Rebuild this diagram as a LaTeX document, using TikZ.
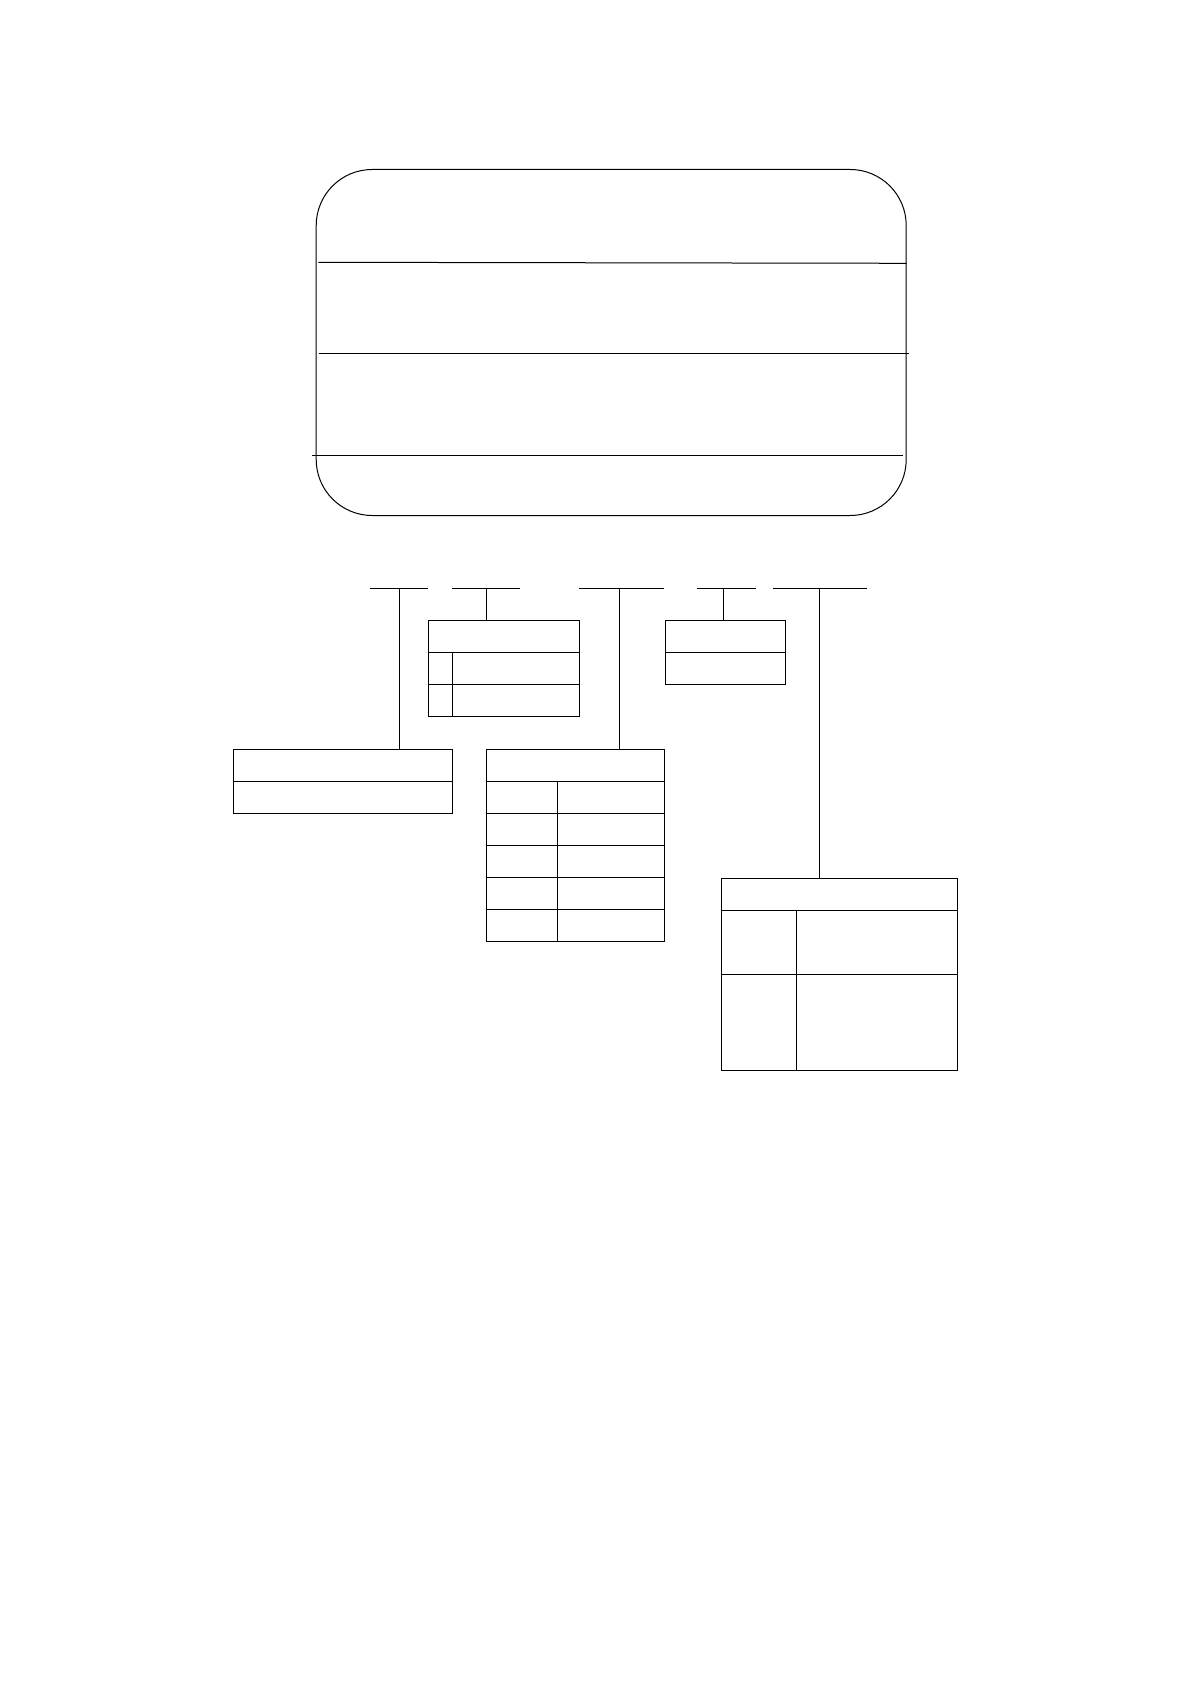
\documentclass[tikz,border=0pt]{standalone}
\usetikzlibrary{positioning}
\tikzstyle{cell} = [draw, rectangle, inner sep=0pt, outer sep=0pt, minimum height=16pt]

\begin{document}
\begin{tikzpicture}[x=0.5pt, y=-0.5pt, line width=0.5pt, node distance=0pt]
  \useasboundingbox (0,0) rectangle (1190,1684);

  % plate
  \node[draw, rounded corners=28pt, inner sep=0pt, anchor=north west,
        minimum width=295pt, minimum height=173pt] (plate) at (315.7,169) {};
  \draw (318.3,262.3) -- (906.7,263.3);
  \draw (318.7,353.3) -- (909,353.3);
  \draw (312.3,455.7) -- (903.3,455.7);

  % left box
  \node[cell, anchor=north west, minimum width=109.5pt] (lft) at (233.3,749.3) {};
  \node[cell, minimum width=109.5pt, below=of lft] (lft2) {};

  % code box
  \node[cell, anchor=north west, minimum width=75.5pt] (code) at (428.3,620) {};
  \node[cell, minimum width=12pt, below right=0pt and 0pt of code.south west] (code1) {};
  \node[cell, minimum width=63.5pt, right=of code1] (coder1) {};
  \node[cell, minimum width=12pt, below=of code1] (code2) {};
  \node[cell, minimum width=63.5pt, right=of code2] (coder2) {};

  % table
  \node[cell, anchor=north west, minimum width=89pt] (tab) at (486.3,749.3) {};
  \node[cell, minimum width=35.5pt, below right=0pt and 0pt of tab.south west] (tab1) {};
  \node[cell, minimum width=53.5pt, right=of tab1] (tabr1) {};
  \foreach \i [count=\j from 1] in {2,...,5} {
    \node[cell, minimum width=35.5pt, below=of tab\j] (tab\i) {};
    \node[cell, minimum width=53.5pt, right=of tab\i] (tabr\i) {};
  }

  % plug box
  \node[cell, anchor=north west, minimum width=60pt] (plug) at (665.3,620) {};
  \node[cell, minimum width=60pt, below=of plug] (plug2) {};

  % note box
  \node[cell, anchor=north west, minimum width=118.2pt] (note) at (721.3,878.3) {};
  \node[cell, minimum width=37.5pt, minimum height=32pt, below right=0pt and 0pt of note.south west] (note1) {};
  \node[cell, minimum width=80.7pt, minimum height=32pt, right=of note1] (noter1) {};
  \node[cell, minimum width=37.5pt, minimum height=48.3pt, below=of note1] (note2) {};
  \node[cell, minimum width=80.7pt, minimum height=48.3pt, right=of note2] (noter2) {};

  % bars and drops
  \foreach \l/\r/\d/\tgt [count=\i] in {370/428/399.3/lft, 452/520/486.3/code,
      579/664.3/619.3/tab, 696.7/755.7/723.3/plug, 773/866.7/819.3/note} {
    \coordinate (bl\i) at (\l,588);
    \coordinate (br\i) at (\r,588);
    \coordinate (bd\i) at (\d,588);
    \draw (bl\i) -- (br\i);
    \draw (bd\i) -- (bd\i |- \tgt.north);
  }
\end{tikzpicture}
\end{document}
